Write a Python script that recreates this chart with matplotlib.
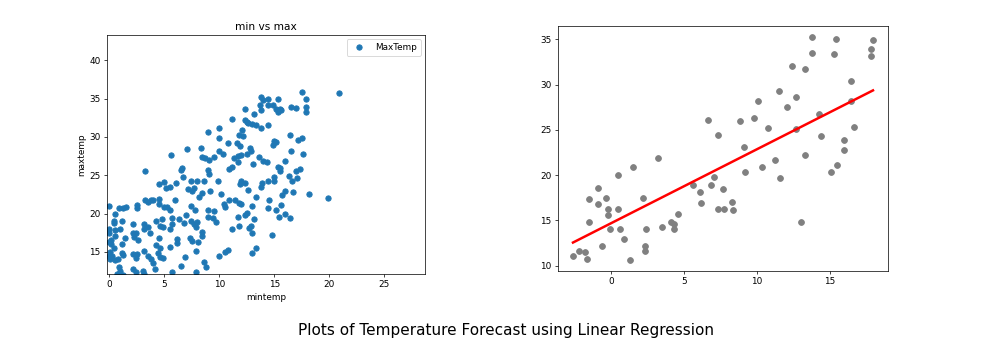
import numpy as np
import matplotlib.pyplot as plt

# Left panel: min vs max temperature (all observations)
min_temp = [20.9, 17.5, 17.9, 17.9, 17.9, 16.5, 17.0, 15.3, 15.5, 15.2, 15.6, 15.3, 14.4, 14.9,
            14.4, 13.8, 14.0, 13.7, 13.8, 13.2, 12.3, 12.3, 12.5, 11.2, 12.6, 13.0, 13.3, 13.8,
            14.4, 12.1, 11.8, 12.2, 11.6, 10.8, 10.0, 10.0, 9.0, 16.4, 17.5, 17.2, 15.0, 15.2,
            14.9, 11.9, 12.8, 12.9, 5.6, 7.1, 8.3, 8.4, 8.7, 9.5, 9.1, 10.0, 10.3, 12.0, 12.5,
            11.7, 11.3, 11.7, 13.6, 14.0, 14.3, 15.3, 15.5, 16.0, 16.5, 17.6, 13.1, 11.2, 10.9,
            9.0, 9.1, 6.6, 6.5, 6.7, 3.3, 7.4, 7.7, 7.2, 8.0, 8.6, 9.9, 9.2, 5.0, 5.2, 5.5, 4.5,
            6.1, 12.0, 12.3, 11.9, 13.9, 13.8, 14.4, 15.0, 15.5, 16.3, 16.6, 17.0, 17.3, 17.1,
            15.0, 12.6, 13.3, 16.7, 15.7, 16.0, 18.2, 19.9, 14.5, 14.4, 15.6, 15.2, 15.4, 16.0,
            16.4, 14.8, 13.2, 12.9, 12.7, 13.0, 12.5, 12.3, 13.0, 13.3, 13.0, 10.8, 10.5, 10.0,
            11.2, 11.7, 11.8, 10.2, 10.4, 10.5, 10.9, 11.4, 11.8, 12.0, 9.5, 9.0, 9.0, 9.4, 9.7,
            8.2, 8.4, 7.5, 7.4, 7.8, 7.0, 7.4, 6.8, 7.7, 7.9, 8.0, 8.4, 8.4, 8.1, 7.5, 7.3, 7.9,
            8.6, 8.8, 7.9, 6.9, 6.5, 5.7, 6.2, 6.2, 5.7, 5.7, 5.5, 6.3, 6.0, 5.0, 5.3, 5.5, 4.5,
            4.5, 3.3, 3.5, 3.8, 4.0, 2.5, 2.5, 4.3, 4.6, 4.8, 4.9, 3.7, 3.5, 3.2, 3.2, 4.5, 4.3,
            4.6, 3.2, 3.5, 3.8, 4.0, 4.4, 4.6, 4.9, 4.2, 3.1, 3.2, 5.5, 2.2, 2.4, 2.2, 2.3, 2.6,
            2.5, 2.2, 2.4, 2.2, 2.4, 1.3, 1.5, 0.9, 0.5, 0.4, 0.4, 0.0, 1.2, 0.5, 1.0, 1.4, 1.2,
            0.5, 0.2, 0.0, 0.0, 0.0, 0.2, 0.4, 0.1, 0.3, 0.0, 0.1, 0.5, 0.8, 1.3, 1.2, 0.9, 1.0,
            0.7, 1.3]
max_temp = [35.7, 35.8, 34.9, 33.9, 33.2, 33.9, 33.8, 33.3, 33.7, 33.6, 33.5, 35.0, 34.1, 34.1,
            35.0, 35.2, 34.8, 34.2, 33.5, 33.0, 33.7, 32.2, 32.0, 32.3, 31.8, 31.7, 31.6, 31.2,
            31.5, 30.9, 30.2, 30.1, 29.2, 29.2, 31.2, 29.9, 30.7, 30.3, 29.9, 29.6, 29.5, 29.4,
            29.0, 28.8, 28.6, 28.1, 27.6, 28.4, 28.5, 27.4, 27.2, 27.4, 27.0, 28.2, 27.8, 27.6,
            27.8, 27.5, 27.2, 26.7, 27.4, 26.8, 26.7, 26.1, 25.5, 26.8, 28.2, 27.8, 26.5, 26.1,
            25.8, 25.7, 25.2, 26.0, 25.7, 24.8, 25.6, 24.3, 23.3, 23.2, 24.3, 24.2, 24.3, 23.0,
            24.1, 23.3, 23.4, 23.9, 24.0, 24.3, 24.0, 23.8, 24.0, 23.4, 24.3, 24.8, 25.9, 24.9,
            24.2, 25.5, 25.8, 24.7, 24.2, 23.1, 22.2, 22.8, 22.4, 23.0, 22.6, 22.0, 21.7, 20.7,
            21.1, 20.4, 19.6, 19.9, 19.4, 17.2, 19.3, 18.4, 18.1, 21.0, 20.1, 19.8, 17.4, 15.5,
            14.8, 15.2, 15.0, 14.4, 18.0, 19.6, 18.4, 22.5, 21.2, 20.9, 21.7, 21.7, 21.4, 21.2,
            20.3, 20.5, 19.6, 19.4, 18.9, 22.2, 22.7, 22.9, 21.0, 20.5, 19.8, 19.0, 18.8, 18.6,
            18.2, 18.9, 17.6, 17.1, 16.3, 16.4, 16.8, 15.1, 13.7, 13.0, 12.3, 14.3, 13.1, 12.3,
            16.7, 16.1, 18.6, 19.4, 18.0, 19.3, 21.7, 20.9, 20.8, 20.5, 21.9, 21.2, 21.8, 21.5,
            21.7, 21.8, 21.1, 20.7, 19.0, 18.4, 19.3, 18.2, 17.4, 18.2, 18.6, 18.0, 16.8, 15.9,
            15.5, 15.1, 14.5, 14.0, 13.6, 14.8, 14.3, 14.2, 12.7, 12.5, 12.1, 15.6, 18.6, 17.4,
            17.4, 16.9, 16.5, 14.7, 14.7, 14.2, 12.7, 12.3, 20.7, 20.8, 20.7, 20.0, 19.0, 18.7,
            21.0, 19.0, 17.9, 18.0, 16.8, 16.0, 17.0, 16.6, 18.0, 17.5, 16.3, 16.0, 15.5, 15.0,
            14.5, 14.5, 14.0, 13.9, 14.1, 14.6, 14.9, 13.0, 12.5, 12.1, 12.0]

# Right panel: test set and regression prediction
test_min = [-2.59, -2.20, -1.78, -1.60, -1.46, -1.46, -0.89, -0.89, -0.62, -0.30, -0.21, -0.21,
            -0.02, 0.48, 0.48, 0.62, 0.89, 1.30, 1.49, 2.22, 2.31, 2.31, 2.40, 3.23, 3.50, 4.10,
            4.30, 4.33, 4.58, 5.61, 6.09, 6.18, 6.68, 6.86, 7.09, 7.37, 7.37, 7.69, 7.76, 8.28,
            8.38, 8.88, 9.11, 9.20, 9.79, 10.11, 10.39, 10.78, 11.28, 11.49, 11.56, 12.08, 12.38,
            12.68, 12.68, 13.0, 13.30, 13.30, 13.80, 13.80, 14.26, 14.39, 15.06, 15.26, 15.40,
            15.49, 16.0, 16.0, 16.48, 16.48, 16.68, 17.85, 17.85, 17.96]
test_max = [11.06, 11.62, 11.5, 10.73, 17.3, 14.8, 18.55, 16.75, 12.2, 17.5, 16.24, 15.58,
            14.0, 19.98, 16.28, 14.0, 12.9, 10.66, 20.9, 17.5, 12.2, 11.62, 14.07, 21.93, 14.3,
            14.8, 14.55, 14.07, 15.69, 18.88, 18.15, 16.94, 26.08, 18.88, 19.77, 24.39, 16.28,
            18.41, 16.2, 17.01, 16.13, 26.0, 23.07, 20.39, 26.3, 28.2, 20.9, 25.2, 21.71, 29.31,
            19.65, 27.47, 32.1, 28.58, 25.12, 14.8, 31.73, 22.22, 35.26, 33.5, 26.74, 24.35,
            20.39, 33.42, 35.04, 21.12, 23.84, 22.81, 30.34, 28.2, 25.31, 33.9, 33.16, 34.93]
intercept = 14.66
slope = 0.818

dpi = 64
fig = plt.figure(figsize=(986 / dpi, 356 / dpi), dpi=dpi)

ax1 = fig.add_axes([0.1085, 0.2303, 0.3225, 0.6713])
ax1.plot(min_temp, max_temp, 'o', label='MaxTemp')
ax1.set_xlim(-0.2, 28.7)
ax1.set_ylim(12.1, 43.3)
ax1.set_xticks([0, 5, 10, 15, 20, 25])
ax1.set_yticks([15, 20, 25, 30, 35, 40])
ax1.set_title('min vs max')
ax1.set_xlabel('mintemp')
ax1.set_ylabel('maxtemp')
ax1.legend(loc='upper right')

ax2 = fig.add_axes([0.5659, 0.2396, 0.3347, 0.688])
ax2.scatter(test_min, test_max, color='gray', s=42)
x_line = np.array([min(test_min), max(test_min)])
ax2.plot(x_line, intercept + slope * x_line, color='red', linewidth=2.8)
ax2.set_xticks([0, 5, 10, 15])
ax2.set_yticks([10, 15, 20, 25, 30, 35])

fig.text(0.5135, 0.073, 'Plots of Temperature Forecast using Linear Regression',
         ha='center', va='center', fontsize=17.2)

fig.savefig('out.png', dpi=dpi)
